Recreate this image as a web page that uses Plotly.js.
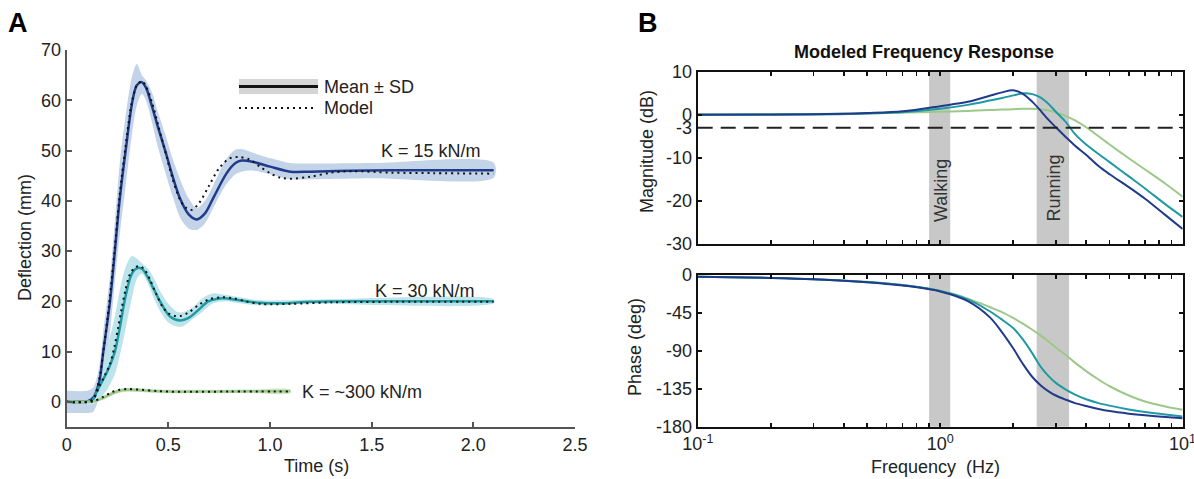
<!DOCTYPE html>
<html>
<head>
<meta charset="utf-8">
<script src="https://cdn.plot.ly/plotly-3.0.1.min.js"></script>
<style>html,body{margin:0;padding:0;background:#fff;}#chart{width:1194px;height:479px;}</style>
</head>
<body>
<div id="chart"></div>
<script>
// ---------- Panel A: step response data ----------
const t15 = [0,0.05,0.10,0.13,0.16,0.18,0.213,0.237,0.26,0.29,0.324,0.345,0.369,0.39,0.418,0.45,0.488,0.52,0.557,0.60,0.639,0.68,0.72,0.787,0.83,0.86,0.92,1.0,1.1,1.2,1.4,1.7,2.1];
const mean15 = [0,0,0.1,0.8,4,10,20,30,40,50,60,63,63.6,62.5,59,54.5,49.5,45,40.5,37.3,36.3,37.5,40.5,45.5,47.5,48,47.7,46.8,45.8,45.8,46.0,46.1,46.1];
const tBand15 = [0,0.10,0.13,0.16,0.18,0.213,0.237,0.26,0.29,0.32,0.345,0.37,0.39,0.42,0.45,0.49,0.52,0.56,0.60,0.64,0.68,0.72,0.78,0.83,0.86,0.92,1.0,1.1,1.2,1.5,2.1];
const upper15 = [2.2,2.2,2.8,7,14,25,36,47,57,64.5,67.2,65,64,61.5,57.5,52.5,48.5,44,40.5,38.5,40,43,48,50.2,50.3,49.5,48.5,47.5,47.4,47.5,47.6];
const lower15 = [-2.2,-2.2,-2.0,1,5,14,24,33,43,53,59,61.3,60,55.5,50.5,45,41,36.5,34.5,34.2,35.5,38.5,43,45.3,45.8,46,45.3,44.3,44.3,44.5,44.6];
const tModel15 = [0,0.1,0.13,0.16,0.18,0.21,0.235,0.26,0.29,0.32,0.345,0.37,0.39,0.42,0.45,0.49,0.52,0.56,0.59,0.615,0.65,0.70,0.75,0.80,0.845,0.9,0.95,1.0,1.05,1.1,1.2,1.3,1.4,1.6,1.8,2.1];
const model15 = [0,0,0.5,4.5,10,20,30,41,51,59.5,63,63.8,62.8,59.5,55,49,44.5,40,38.5,38.2,39.5,43,46.5,48.4,48.7,48.2,46.8,45.5,44.6,44.4,44.8,45.6,45.9,45.6,45.5,45.4];

const t30 = [0,0.1,0.13,0.147,0.18,0.21,0.237,0.26,0.287,0.315,0.335,0.355,0.375,0.396,0.43,0.459,0.508,0.557,0.60,0.64,0.696,0.74,0.77,0.85,0.95,1.05,1.2,1.5,2.1];
const mean30 = [0,0,0.5,2,4.5,7,10,14.5,20.5,25,26.3,26.7,26.3,25,22.3,20,17,16.2,16.7,18,20,20.5,20.6,20.2,19.7,19.6,19.9,20,20];
const tBand30 = [0.10,0.13,0.16,0.20,0.237,0.26,0.287,0.32,0.345,0.37,0.40,0.43,0.46,0.50,0.54,0.57,0.62,0.67,0.72,0.78,0.85,0.95,1.2,2.1];
const upper30 = [0.5,1,5,11,17,22,26.5,29,28.5,27.6,26.5,24.5,22,19.5,18,17.8,18.8,20.7,21.6,21.3,20.8,20.2,20.3,20.4];
const lower30 = [-0.5,-0.5,0.5,2.5,5.5,9,14,20.5,24.5,25.5,23.5,20.5,18,15.8,15,15,16.5,18,19.6,20,19.6,19.2,19.5,19.6];
const tModel30 = [0,0.1,0.13,0.16,0.19,0.213,0.235,0.254,0.27,0.287,0.31,0.335,0.36,0.385,0.41,0.44,0.47,0.50,0.53,0.56,0.60,0.65,0.70,0.76,0.82,0.88,0.95,1.0,1.1,1.3,1.6,2.1];
const model30 = [0,0,0.5,3,5.5,7.5,11,15,18.5,21.9,25.3,26.7,27,26.2,24.3,21.5,19,17.6,17.1,17.1,17.8,19.3,20.4,20.8,20.6,20.0,19.5,19.4,19.5,19.8,19.9,19.9];

const t300 = [0,0.1,0.13,0.18,0.22,0.26,0.30,0.35,0.42,0.5,0.7,0.9,1.1];
const mean300 = [0,0,0.1,0.8,1.6,2.2,2.4,2.35,2.15,2.05,2.05,2.1,2.1];
const upper300 = [0.3,0.3,0.4,1.2,2.0,2.6,2.8,2.75,2.5,2.4,2.4,2.45,2.45];
const lower300 = [-0.3,-0.3,-0.2,0.4,1.2,1.8,2.0,1.95,1.8,1.7,1.7,1.75,1.75];
const tModel300 = [0,0.1,0.13,0.18,0.22,0.26,0.30,0.35,0.45,0.55,0.8,1.1];
const model300 = [0,0,0.1,1.0,1.9,2.4,2.55,2.45,2.15,2.0,2.05,2.05];

const timeTicks = [0,0.5,1.0,1.5,2.0,2.5];
const timeTickText = ['0','0.5','1.0','1.5','2.0','2.5'];
const deflTicks = [0,10,20,30,40,50,60,70];

// ---------- Panel B: frequency response data ----------
const freq = [0.1,0.2,0.3,0.5,0.7,1.0,1.3,1.6,1.8,2.0,2.2,2.4,2.6,2.8,3.0,3.3,3.6,4.0,4.5,5.0,6.0,7.0,8.5,10];
const mag15 = [0,0.05,0.1,0.4,0.8,2.0,3.0,4.4,5.2,5.7,4.8,3.0,0.9,-1.2,-2.9,-5.2,-7.2,-9.3,-11.9,-13.8,-16.8,-19.5,-23.3,-26.5];
const mag30 = [0,0.02,0.05,0.3,0.6,1.4,2.3,3.3,3.9,4.5,5.0,4.8,4.0,2.5,0.7,-1.7,-4.5,-6.9,-9.1,-11.0,-14.3,-17.1,-20.8,-23.7];
const mag300 = [0.1,0.15,0.2,0.3,0.5,0.7,0.9,1.1,1.2,1.3,1.4,1.4,1.3,1.0,0.6,-0.3,-1.3,-2.9,-5.0,-6.9,-10.1,-12.7,-16.0,-19.0];
const phase15 = [-2,-3.5,-5,-8.5,-12.5,-19.5,-31,-50,-68,-87,-106,-121,-131,-138,-143,-148,-152,-155.5,-159,-161.5,-164.5,-166.5,-168.5,-170];
const phase30 = [-2,-3.5,-5,-8.5,-12,-19,-29,-43,-53,-63,-77,-93,-109,-120,-128,-136,-142,-147.5,-152,-155,-159.5,-162.5,-165.5,-168];
const phase300 = [-2,-3.5,-5,-8,-12,-18.5,-28,-38,-44,-51,-58,-65,-72,-79,-86,-95,-104,-114,-124,-132,-143,-150,-156,-160];
const walkingBand = [0.9,1.1];
const runningBand = [2.5,3.4];
const cutoffDb = -3;
const freqTicks = [0.1,0.2,0.3,0.4,0.5,0.6,0.7,0.8,0.9,1,2,3,4,5,6,7,8,9,10];
const freqTickText = ['10<sup>-1</sup>','','','','','','','','','10<sup>0</sup>','','','','','','','','','10<sup>1</sup>'];
const magTicks = [10,0,-3,-10,-20,-30];
const phaseTicks = [0,-45,-90,-135,-180];

// ---------- styles ----------
const C15 = '#213b8b', C30 = '#1f9aa3', C300 = '#9cc98a';
const B15 = 'rgba(195,211,232,1)', B30 = 'rgba(188,228,234,1)', B300 = 'rgba(205,230,195,1)';
const FONT = 'Liberation Sans, Arial, sans-serif';
const FS = 18;
const W = 1194, H = 479;
const px = x => x / W, py = y => 1 - y / H;

function band(t, up, lo, color, xa, ya) {
  return {x: t.concat(t.slice().reverse()), y: up.concat(lo.slice().reverse()),
    fill: 'toself', fillcolor: color, mode: 'lines', line: {width: 0, shape: 'spline', smoothing: 0.8},
    hoverinfo: 'skip', showlegend: false, xaxis: xa, yaxis: ya};
}
function line(x, y, color, width, xa, ya, dash) {
  return {x: x, y: y, mode: 'lines', line: {color: color, width: width, shape: 'spline', smoothing: 0.9, dash: dash || 'solid'},
    showlegend: false, xaxis: xa, yaxis: ya};
}
const DOT = '2px,4px';
const traces = [
  band(tBand15, upper15, lower15, B15, 'x', 'y'),
  band(tBand30, upper30, lower30, B30, 'x', 'y'),
  band(t300, upper300, lower300, B300, 'x', 'y'),
  line(t15, mean15, C15, 2.5, 'x', 'y'),
  line(t30, mean30, C30, 2.5, 'x', 'y'),
  line(t300, mean300, C300, 2.5, 'x', 'y'),
  line(tModel15, model15, '#111', 2, 'x', 'y', DOT),
  line(tModel30, model30, '#111', 2, 'x', 'y', DOT),
  line(tModel300, model300, '#111', 2, 'x', 'y', DOT),
  line(freq, mag300, C300, 2, 'x2', 'y2'),
  line(freq, mag30, C30, 2, 'x2', 'y2'),
  line(freq, mag15, C15, 2, 'x2', 'y2'),
  line(freq, phase300, C300, 2, 'x3', 'y3'),
  line(freq, phase30, C30, 2, 'x3', 'y3'),
  line(freq, phase15, C15, 2, 'x3', 'y3')
];

const tickFont = {family: FONT, size: FS, color: '#222'};
const leftAx = {showline: true, linecolor: '#555', linewidth: 2, ticks: 'inside', ticklen: 5, tickwidth: 2, tickcolor: '#555',
  showgrid: false, zeroline: false, tickfont: tickFont, fixedrange: true};
const rightAx = {showline: true, linecolor: '#111', linewidth: 2, mirror: 'ticks', ticks: 'inside', ticklen: 4, tickwidth: 1.5, tickcolor: '#111',
  showgrid: false, zeroline: false, tickfont: tickFont, fixedrange: true, ticklabeloverflow: 'allow'};
const logRange = [-1.0005, 1.0005];

const layout = {
  width: W, height: H, margin: {l: 0, r: 0, t: 0, b: 0}, paper_bgcolor: '#fff', plot_bgcolor: '#fff',
  font: {family: FONT, color: '#222'}, showlegend: false,
  xaxis: Object.assign({}, leftAx, {domain: [px(66.7), px(575)], range: [0, 2.5], anchor: 'y', tickvals: timeTicks, ticktext: timeTickText}),
  yaxis: Object.assign({}, leftAx, {domain: [py(427), py(50)], range: [-5, 70], anchor: 'x', tickvals: deflTicks}),
  xaxis2: Object.assign({}, rightAx, {domain: [px(697.7), px(1182.7)], type: 'log', range: logRange, anchor: 'y2', tickvals: freqTicks, showticklabels: false}),
  yaxis2: Object.assign({}, rightAx, {domain: [py(244), py(71.7)], range: [-30, 10], anchor: 'x2', tickvals: magTicks, ticktext: magTicks.map(String)}),
  xaxis3: Object.assign({}, rightAx, {domain: [px(697.7), px(1182.7)], type: 'log', range: logRange, anchor: 'y3', tickvals: freqTicks, ticktext: freqTickText}),
  yaxis3: Object.assign({}, rightAx, {domain: [py(426.7), py(275)], range: [-180, 0], anchor: 'x3', tickvals: phaseTicks, ticktext: phaseTicks.map(String)}),
  shapes: [
    {type: 'rect', xref: 'x2', yref: 'y2 domain', x0: walkingBand[0], x1: walkingBand[1], y0: 0, y1: 1, fillcolor: '#c8c8c8', line: {width: 0}, layer: 'below'},
    {type: 'rect', xref: 'x2', yref: 'y2 domain', x0: runningBand[0], x1: runningBand[1], y0: 0, y1: 1, fillcolor: '#c8c8c8', line: {width: 0}, layer: 'below'},
    {type: 'rect', xref: 'x3', yref: 'y3 domain', x0: walkingBand[0], x1: walkingBand[1], y0: 0, y1: 1, fillcolor: '#c8c8c8', line: {width: 0}, layer: 'below'},
    {type: 'rect', xref: 'x3', yref: 'y3 domain', x0: runningBand[0], x1: runningBand[1], y0: 0, y1: 1, fillcolor: '#c8c8c8', line: {width: 0}, layer: 'below'},
    {type: 'line', xref: 'x2 domain', yref: 'y2', x0: 0, x1: 1, y0: cutoffDb, y1: cutoffDb, line: {color: '#222', width: 2, dash: '15px,8px'}},
    // legend symbols
    {type: 'rect', xref: 'paper', yref: 'paper', x0: px(239), x1: px(318), y0: py(94), y1: py(79), fillcolor: '#d4d4d4', line: {width: 0}},
    {type: 'line', xref: 'paper', yref: 'paper', x0: px(239), x1: px(318), y0: py(86.5), y1: py(86.5), line: {color: '#111', width: 3}},
    {type: 'line', xref: 'paper', yref: 'paper', x0: px(239), x1: px(317), y0: py(108), y1: py(108), line: {color: '#111', width: 2, dash: DOT}}
  ],
  annotations: [
    {text: '<b>A</b>', x: px(18), y: py(23), font: {size: 27, color: '#000'}},
    {text: '<b>B</b>', x: px(648), y: py(23), font: {size: 27, color: '#000'}},
    {text: 'Mean ± SD', x: px(322), y: py(87), xanchor: 'left', font: {size: FS}},
    {text: 'Model', x: px(322), y: py(108), xanchor: 'left', font: {size: FS}},
    {text: 'K = 15 kN/m', x: px(431), y: py(151), font: {size: FS}},
    {text: 'K = 30 kN/m', x: px(425), y: py(291), font: {size: FS}},
    {text: 'K = ~300 kN/m', x: px(362), y: py(392), font: {size: FS}},
    {text: 'Deflection (mm)', x: px(25), y: py(238), textangle: -90, font: {size: FS}},
    {text: 'Time (s)', x: px(316), y: py(466), font: {size: FS}},
    {text: '<b>Modeled Frequency Response</b>', x: px(924), y: py(52), font: {size: 18, color: '#111'}},
    {text: 'Magnitude (dB)', x: px(647), y: py(152), textangle: -90, font: {size: FS}},
    {text: 'Phase (deg)', x: px(635), y: py(347), textangle: -90, font: {size: FS}},
    {text: 'Frequency\u00a0\u00a0(Hz)', x: px(935), y: py(467), font: {size: FS}},
    {text: 'Walking', x: px(941), y: py(190), textangle: -90, font: {size: FS, color: '#333'}},
    {text: 'Running', x: px(1053.5), y: py(188), textangle: -90, font: {size: FS, color: '#333'}}
  ].map(a => Object.assign({xref: 'paper', yref: 'paper', showarrow: false, xanchor: 'center', yanchor: 'middle'}, a))
};

Plotly.newPlot('chart', traces, layout, {staticPlot: true, displayModeBar: false});
</script>
</body>
</html>
